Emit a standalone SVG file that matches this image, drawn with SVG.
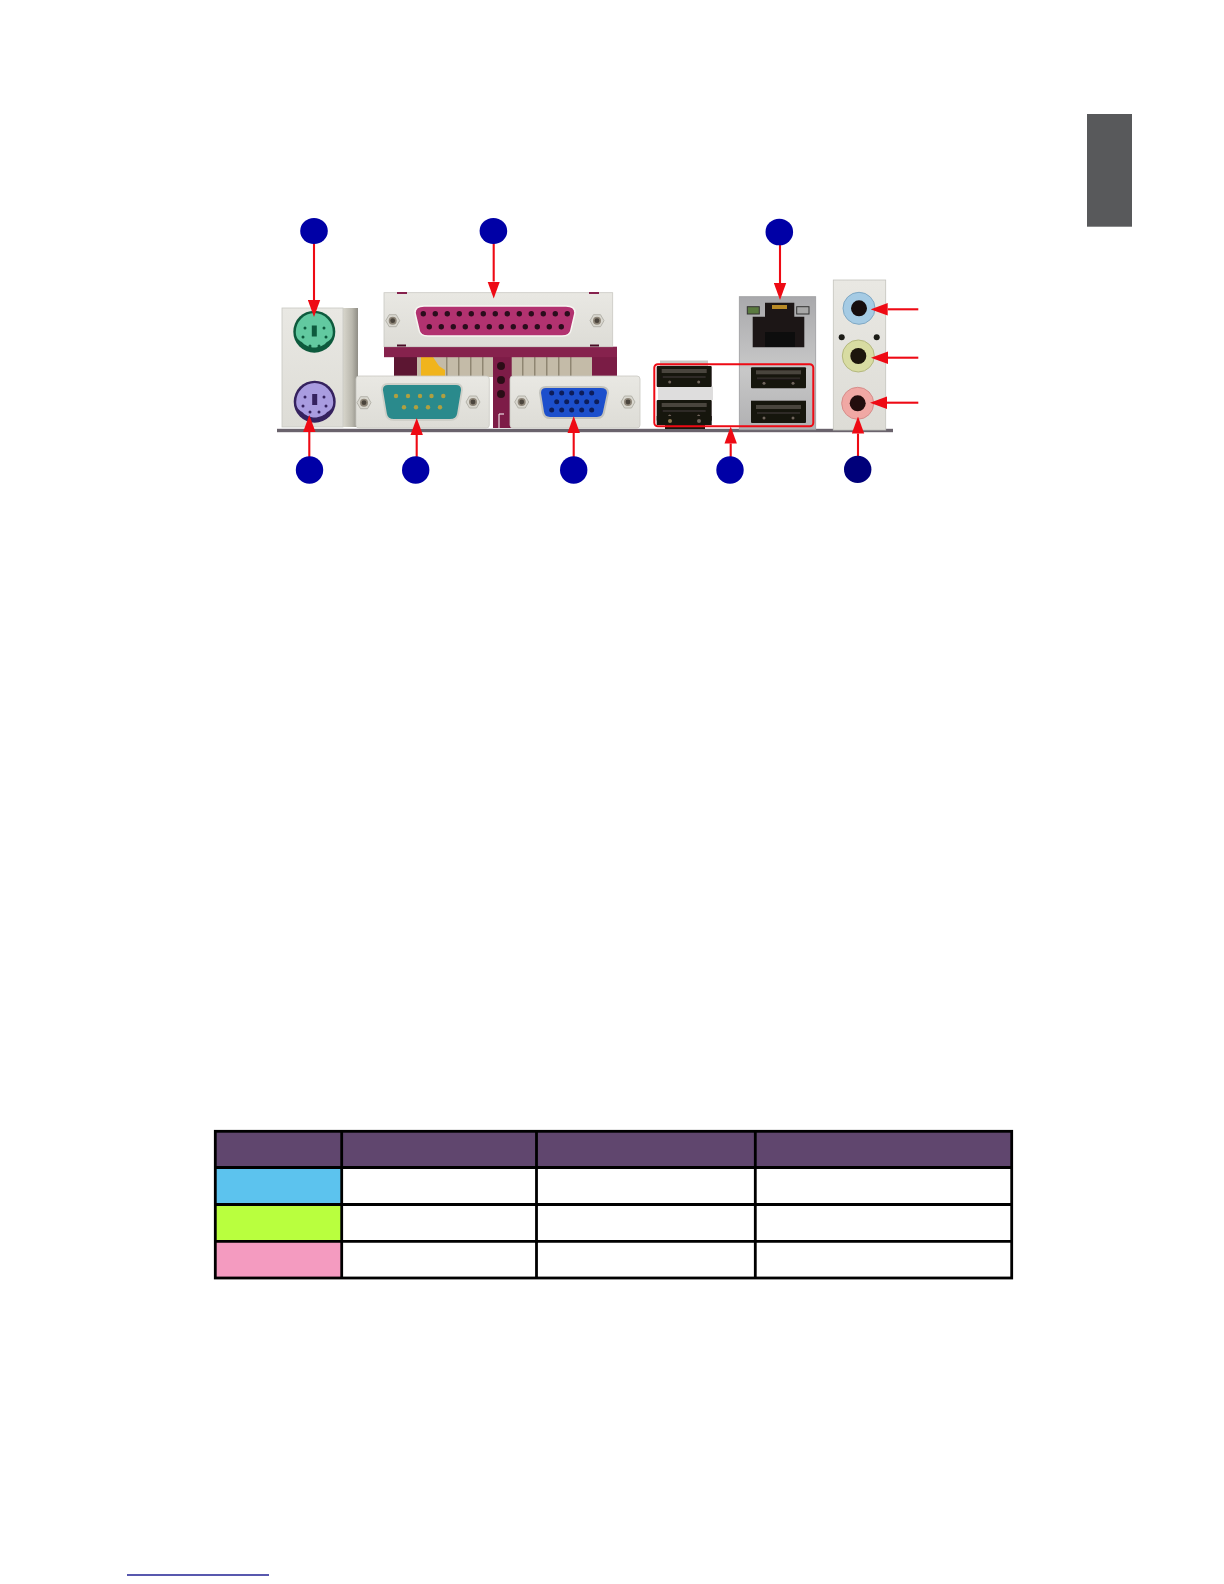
<svg xmlns="http://www.w3.org/2000/svg" width="1224" height="1584" viewBox="0 0 1224 1584">
<style>
.plate{fill:url(#metal);stroke:#c9c8c2;stroke-width:.8}
.conn{stroke:#ee0a14;stroke-width:2.100;fill:none;marker-end:url(#head)}
.badge{fill:#0000a6}
.grid{stroke:#000;stroke-width:2.800;fill:none}
.usb{fill:#17130f}
</style>
<defs>
<linearGradient id="metal" x1="0" y1="0" x2="0" y2="1"><stop offset="0" stop-color="#e9e8e3"/><stop offset="1" stop-color="#dddcd6"/></linearGradient>
<linearGradient id="side" x1="0" y1="0" x2="1" y2="0"><stop offset="0" stop-color="#d8d6cc"/><stop offset=".6" stop-color="#b9b7ad"/><stop offset="1" stop-color="#8f8d85"/></linearGradient>
<linearGradient id="lanmetal" x1="0" y1="0" x2="0" y2="1"><stop offset="0" stop-color="#a9a9ac"/><stop offset=".55" stop-color="#c8c8c8"/><stop offset="1" stop-color="#b0b0b2"/></linearGradient>
<filter id="soft" x="-2%" y="-2%" width="104%" height="104%"><feGaussianBlur stdDeviation=".45"/></filter>
<marker id="head" markerUnits="userSpaceOnUse" markerWidth="17" markerHeight="13" refX="0" refY="6.500" orient="auto"><path d="M0 0.300L17 6.500L0 12.700Z" fill="#ee0a14"/></marker>
<g id="screw"><path d="M-7 0L-3.500 -6H3.500L7 0L3.500 6H-3.500Z" fill="#d9d7cf" stroke="#aaa89f" stroke-width=".8"/><circle r="4" fill="#8d8578"/><circle r="2.400" fill="#4b443c"/></g>
<circle id="p25" r="2.700" fill="#2a0a1c"/>
<circle id="p9" r="2.200" fill="#b0a040"/>
<circle id="p15" r="2.500" fill="#0b1f5a"/>
<g id="usbport"><rect x="0" y="0" width="55" height="21" rx="1" class="usb"/><rect x="5" y="3" width="45" height="4" fill="#4a443e"/><rect x="6" y="10" width="43" height="2" fill="#2e2a26"/><circle cx="13" cy="16" r="1.500" fill="#6e655a"/><circle cx="42" cy="16" r="1.500" fill="#6e655a"/></g>
</defs>
<rect width="1224" height="1584" fill="#fff"/>

<g id="side-tab"><rect x="1087" y="114" width="45" height="112.700" fill="#58595b"/></g>

<g id="io-panel" filter="url(#soft)">
<rect id="base-strip" x="277" y="428.800" width="616" height="3.400" fill="#6a646c"/>

<g id="ps2-bracket">
<rect x="343" y="308" width="15" height="119" fill="url(#side)"/>
<rect x="282" y="308" width="61" height="119" class="plate"/>
<circle cx="314.300" cy="331.700" r="21" fill="#0f5a3c"/>
<path d="M314.300 313a19 19 0 0 1 18.500 19c0 5-2 8-6 10c-2 3-8 5.500-12.500 5.500s-10-2.500-12.500-5.500c-4-2-6-5-6-10a19 19 0 0 1 18.500-19Z" fill="#62c9a0"/>
<rect x="311.800" y="325.500" width="5" height="11" fill="#0f5a3c"/>
<g fill="#0f5a3c"><circle cx="305" cy="328" r="1.500"/><circle cx="324" cy="328" r="1.500"/><circle cx="303" cy="337" r="1.500"/><circle cx="326" cy="337" r="1.500"/><circle cx="310" cy="346" r="1.500"/><circle cx="319" cy="346" r="1.500"/></g>
<circle cx="314.700" cy="401.700" r="21" fill="#35205e"/>
<path d="M314.700 383a19 19 0 0 1 18.500 19c0 5-2 8-6 10c-2 3-8 5.500-12.500 5.500s-10-2.500-12.500-5.500c-4-2-6-5-6-10a19 19 0 0 1 18.500-19Z" fill="#a99ce0"/>
<rect x="312.200" y="394" width="5" height="11" fill="#35205e"/>
<g fill="#35205e"><circle cx="305" cy="397" r="1.500"/><circle cx="324" cy="397" r="1.500"/><circle cx="303" cy="406" r="1.500"/><circle cx="326" cy="406" r="1.500"/><circle cx="310" cy="412" r="1.500"/><circle cx="319" cy="412" r="1.500"/></g>
</g>

<g id="parallel-port">
<rect x="394" y="355" width="23" height="22" fill="#5c1432"/>
<rect x="592" y="355" width="25" height="22" fill="#7a1c44"/>
<rect x="417" y="357" width="175" height="20" fill="#c4bba8"/>
<g fill="#8f8672"><rect x="446" y="357" width="1.500" height="20"/><rect x="458" y="357" width="1.500" height="20"/><rect x="470" y="357" width="1.500" height="20"/><rect x="482" y="357" width="1.500" height="20"/><rect x="522" y="357" width="1.500" height="20"/><rect x="534" y="357" width="1.500" height="20"/><rect x="546" y="357" width="1.500" height="20"/><rect x="558" y="357" width="1.500" height="20"/><rect x="570" y="357" width="1.500" height="20"/></g>
<path d="M421 357H433L439 366L445 370V377H421Z" fill="#f0b41e"/>
<rect x="493" y="357" width="18.700" height="71" fill="#7d1d47"/>
<g fill="#2c0a18"><circle cx="501" cy="366" r="4"/><circle cx="501" cy="380" r="4"/><circle cx="501" cy="394" r="4"/></g>
<path d="M499 428V414H504" stroke="#fff" stroke-width="1" fill="none"/>
<rect x="384" y="346.700" width="233" height="10.500" fill="#86214e"/>
<rect x="384" y="292.700" width="228.700" height="54" class="plate"/>
<rect x="397" y="292" width="10" height="2" fill="#86214e"/><rect x="589" y="292" width="10" height="2" fill="#86214e"/>
<rect x="397" y="344.500" width="9" height="2" fill="#4a1028"/><rect x="590" y="344.500" width="9" height="2" fill="#4a1028"/>
<path d="M424 306H566Q575 306 575 313L571 330Q570 336 562 336H428Q420 336 419 330L415 313Q415 306 424 306Z" fill="#b2326f" stroke="#f7f6f2" stroke-width="1.500"/>
<use href="#screw" x="392.700" y="320.700"/><use href="#screw" x="597" y="320.700"/>
<g><use href="#p25" x="423.300" y="313.700"/><use href="#p25" x="435.300" y="313.700"/><use href="#p25" x="447.300" y="313.700"/><use href="#p25" x="459.300" y="313.700"/><use href="#p25" x="471.300" y="313.700"/><use href="#p25" x="483.300" y="313.700"/><use href="#p25" x="495.300" y="313.700"/><use href="#p25" x="507.300" y="313.700"/><use href="#p25" x="519.300" y="313.700"/><use href="#p25" x="531.300" y="313.700"/><use href="#p25" x="543.300" y="313.700"/><use href="#p25" x="555.300" y="313.700"/><use href="#p25" x="567.300" y="313.700"/>
<use href="#p25" x="429.300" y="326.700"/><use href="#p25" x="441.300" y="326.700"/><use href="#p25" x="453.300" y="326.700"/><use href="#p25" x="465.300" y="326.700"/><use href="#p25" x="477.300" y="326.700"/><use href="#p25" x="489.300" y="326.700"/><use href="#p25" x="501.300" y="326.700"/><use href="#p25" x="513.300" y="326.700"/><use href="#p25" x="525.300" y="326.700"/><use href="#p25" x="537.300" y="326.700"/><use href="#p25" x="549.300" y="326.700"/><use href="#p25" x="561.300" y="326.700"/></g>
</g>

<g id="serial-port">
<rect x="356" y="376" width="133.300" height="52" rx="3" class="plate"/>
<path d="M388 384H456Q462 384 462 390L458 414Q457 420 450 420H394Q387 420 386 414L382 390Q382 384 388 384Z" fill="#2b8a8c" stroke="#cfcfc8" stroke-width="1.800"/>
<use href="#screw" x="364" y="402.700"/><use href="#screw" x="473" y="402"/>
<use href="#p9" x="396" y="396"/><use href="#p9" x="408" y="396"/><use href="#p9" x="420" y="396"/><use href="#p9" x="431.500" y="396"/><use href="#p9" x="443.300" y="396"/>
<use href="#p9" x="404" y="407.300"/><use href="#p9" x="416" y="407.300"/><use href="#p9" x="428" y="407.300"/><use href="#p9" x="440" y="407.300"/>
</g>

<g id="vga-port">
<rect x="510" y="376" width="130" height="52" rx="3" class="plate"/>
<path d="M546 387H601Q608 387 608 393L604 412Q603 418 597 418H550Q544 418 543 412L540 393Q540 387 546 387Z" fill="#1f50cc" stroke="#c2c2bc" stroke-width="2"/>
<use href="#screw" x="521.700" y="402"/><use href="#screw" x="628" y="402"/>
<use href="#p15" x="551.700" y="393"/><use href="#p15" x="561.700" y="393"/><use href="#p15" x="571.700" y="393"/><use href="#p15" x="581.700" y="393"/><use href="#p15" x="591.700" y="393"/>
<use href="#p15" x="556.700" y="401.700"/><use href="#p15" x="566.700" y="401.700"/><use href="#p15" x="576.700" y="401.700"/><use href="#p15" x="586.700" y="401.700"/><use href="#p15" x="596.700" y="401.700"/>
<use href="#p15" x="551.700" y="410"/><use href="#p15" x="561.700" y="410"/><use href="#p15" x="571.700" y="410"/><use href="#p15" x="581.700" y="410"/><use href="#p15" x="591.700" y="410"/>
</g>

<g id="usb-left">
<rect x="660" y="360.500" width="48" height="6" fill="#c9c8c4"/>
<rect x="658" y="386.500" width="55" height="13.500" fill="#dedddd"/>
<use href="#usbport" x="656.700" y="366"/>
<use href="#usbport" x="656.700" y="400"/>
<rect x="656.700" y="416" width="55" height="9" class="usb"/>
<circle cx="670" cy="421" r="2" fill="#8d7a50"/><circle cx="699" cy="421" r="2" fill="#6e655a"/>
<rect x="665" y="425" width="40" height="4" class="usb"/>
</g>

<g id="lan-usb">
<rect x="739.300" y="296.700" width="76.400" height="133" fill="url(#lanmetal)" stroke="#9c9c9e" stroke-width=".8"/>
<path d="M752.700 316.700H765V302.700H794.300V316.700H804.300V347.300H752.700Z" fill="#1b1714"/>
<rect x="772" y="305" width="15" height="4" fill="#b88a25"/>
<rect x="765" y="332" width="30" height="15" fill="#0e0c0a"/>
<rect x="747.300" y="306.700" width="12" height="7.300" fill="#5a7a40" stroke="#333"/>
<rect x="796.700" y="306.700" width="12.300" height="7.300" fill="#a8a8a8" stroke="#333"/>
<use href="#usbport" x="751" y="367.300"/>
<use href="#usbport" x="751" y="402"/>
<rect x="751" y="400.700" width="55" height="4" class="usb"/>
</g>

<g id="audio-jacks">
<rect x="833.300" y="280" width="52.400" height="150" fill="url(#metal)" stroke="#c4c3bd" stroke-width=".8"/>
<circle cx="841.700" cy="337.300" r="3" fill="#1a1a18"/><circle cx="876.700" cy="337.300" r="3" fill="#1a1a18"/>
<circle cx="859" cy="308.300" r="16" fill="#a5cbe4" stroke="#7fa8c4"/><circle cx="859" cy="308.300" r="8" fill="#160d0e"/>
<circle cx="858.300" cy="356" r="16" fill="#d8dca2" stroke="#b4b87e"/><circle cx="858.300" cy="356" r="8" fill="#1a140a"/>
<circle cx="857.700" cy="403.300" r="16" fill="#f0a8a4" stroke="#d68d8a"/><circle cx="857.700" cy="403.300" r="8" fill="#240c0c"/>
</g>
</g>

<g id="usb-frame"><rect x="654.300" y="364.300" width="159" height="62" rx="3.500" fill="none" stroke="#ee0a14" stroke-width="2"/></g>

<g id="connectors">
<line class="conn" x1="314" y1="243" x2="314" y2="300"/>
<line class="conn" x1="493.700" y1="243" x2="493.700" y2="281.500"/>
<line class="conn" x1="780" y1="245" x2="780" y2="283"/>
<line class="conn" x1="309.300" y1="457" x2="309.300" y2="432"/>
<line class="conn" x1="416.700" y1="457" x2="416.700" y2="435"/>
<line class="conn" x1="573.700" y1="457" x2="573.700" y2="433"/>
<line class="conn" x1="730.700" y1="457" x2="730.700" y2="443.500"/>
<line class="conn" x1="858" y1="456" x2="858" y2="433.500"/>
<line class="conn" x1="918.300" y1="309.300" x2="887.700" y2="309.300"/>
<line class="conn" x1="918.300" y1="357.700" x2="888" y2="357.700"/>
<line class="conn" x1="918.300" y1="402.700" x2="887" y2="402.700"/>
</g>

<g id="badge-1"><ellipse class="badge" cx="314" cy="231" rx="13.800" ry="13"/></g>
<g id="badge-2"><ellipse class="badge" cx="493.400" cy="231" rx="13.800" ry="13"/></g>
<g id="badge-3"><ellipse class="badge" cx="779.300" cy="232" rx="13.800" ry="13.300"/></g>
<g id="badge-4"><circle class="badge" cx="309.500" cy="470" r="13.700"/></g>
<g id="badge-5"><circle class="badge" cx="415.700" cy="470" r="13.700"/></g>
<g id="badge-6"><circle class="badge" cx="573.700" cy="470" r="13.700"/></g>
<g id="badge-7"><circle class="badge" cx="730" cy="470" r="13.700"/></g>
<g id="badge-8"><circle cx="857.700" cy="469.400" r="13.700" fill="#00007a"/></g>

<g id="table">
<rect x="215.300" y="1131.300" width="796.400" height="36.300" fill="#60466e"/>
<rect x="215.300" y="1167.500" width="126.400" height="37" fill="#5cc3ee"/>
<rect x="215.300" y="1204.500" width="126.400" height="37" fill="#b9ff3e"/>
<rect x="215.300" y="1241.300" width="126.400" height="36.700" fill="#f49bc0"/>
<rect class="grid" x="215.300" y="1131.300" width="796.400" height="146.700"/>
<path class="grid" d="M341.700 1131.300V1278M536.500 1131.300V1278M755.300 1131.300V1278M215.300 1167.500H1011.700M215.300 1204.500H1011.700M215.300 1241.300H1011.700"/>
</g>

<g id="footer-rule"><rect x="127" y="1574.300" width="142" height="1.400" fill="#12128c"/></g>
</svg>
